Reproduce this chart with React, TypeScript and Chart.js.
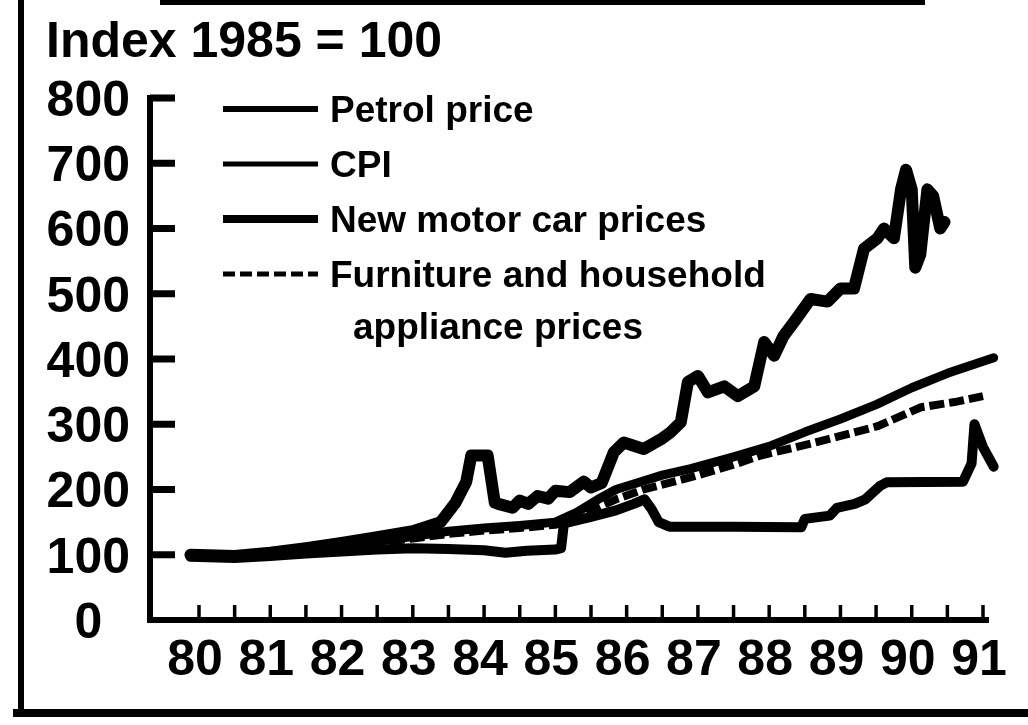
import React, { useEffect, useRef } from 'react';
import { Chart, registerables } from 'chart.js';

Chart.register(...registerables);

const FONT = "'Liberation Sans', Arial, Helvetica, sans-serif";

const titleText = 'Index 1985 = 100';
const yearTicks = [1980, 1981, 1982, 1983, 1984, 1985, 1986, 1987, 1988, 1989, 1990, 1991];
const xTickLabels = ['80', '81', '82', '83', '84', '85', '86', '87', '88', '89', '90', '91'];
const seriesLabels = ['Petrol price', 'CPI', 'New motor car prices', 'Furniture and household\nappliance prices'];

const petrolYears = [1979.88, 1980.5, 1981.0, 1981.5, 1982.0, 1982.5, 1983.0, 1983.5, 1984.0, 1984.3, 1984.6, 1985.0, 1985.08, 1985.12, 1985.5, 1985.85, 1986.1, 1986.25, 1986.35, 1986.45, 1986.6, 1987.5, 1988.45, 1988.5, 1988.85, 1988.95, 1989.2, 1989.35, 1989.55, 1989.65, 1990.72, 1990.84, 1990.88, 1991.0, 1991.15];
const petrolValues = [97, 95, 98, 102, 105, 108, 110, 109, 107, 103, 106, 108, 110, 148, 158, 168, 178, 185, 170, 150, 143, 143, 142, 155, 160, 172, 178, 185, 205, 211, 212, 240, 300, 265, 235];

const cpiYears = [1979.88, 1980.5, 1981.0, 1981.5, 1982.0, 1982.5, 1983.0, 1983.5, 1984.0, 1984.5, 1985.0, 1985.3, 1985.6, 1985.85, 1986.2, 1986.5, 1986.9, 1987.5, 1988.0, 1988.5, 1989.0, 1989.5, 1990.0, 1990.5, 1991.15];
const cpiValues = [98, 98, 102, 107, 114, 121, 128, 136, 141, 145, 150, 165, 185, 200, 212, 222, 232, 250, 266, 288, 308, 330, 356, 378, 402];

const carYears = [1979.88, 1980.5, 1981.0, 1981.5, 1982.0, 1982.5, 1983.0, 1983.39, 1983.6, 1983.75, 1983.82, 1984.05, 1984.15, 1984.2, 1984.4, 1984.5, 1984.62, 1984.75, 1984.9, 1985.0, 1985.2, 1985.4, 1985.5, 1985.65, 1985.82, 1985.96, 1986.24, 1986.48, 1986.62, 1986.76, 1986.86, 1987.0, 1987.14, 1987.37, 1987.56, 1987.79, 1987.93, 1988.07, 1988.2, 1988.35, 1988.58, 1988.82, 1989.0, 1989.19, 1989.33, 1989.52, 1989.61, 1989.75, 1989.85, 1989.92, 1990.0, 1990.05, 1990.12, 1990.22, 1990.3, 1990.4, 1990.46];
const carValues = [100, 98, 103, 110, 118, 127, 136, 150, 180, 212, 252, 252, 180, 178, 172, 183, 178, 190, 186, 198, 196, 212, 203, 210, 257, 272, 262, 277, 288, 303, 365, 374, 349, 358, 343, 358, 426, 405, 435, 457, 492, 488, 508, 508, 569, 585, 600, 585, 660, 690, 660, 540, 560, 660, 650, 600, 610];

const furnitureYears = [1979.88, 1980.5, 1981.0, 1981.5, 1982.0, 1982.5, 1983.0, 1983.5, 1984.0, 1984.5, 1985.0, 1985.5, 1985.85, 1986.24, 1986.94, 1987.5, 1987.88, 1988.72, 1989.52, 1990.13, 1990.6, 1991.0];
const furnitureValues = [97, 97, 100, 105, 111, 118, 125, 132, 137, 141, 146, 168, 185, 200, 220, 238, 252, 274, 297, 326, 334, 343];

const pts = (xs: number[], ys: number[]) => xs.map((x, i) => ({ x, y: ys[i] }));

const frameAndTitle = {
  id: 'frameAndTitle',
  afterDraw(chart: any) {
    const ctx = chart.ctx;
    ctx.save();
    ctx.fillStyle = '#000';
    ctx.fillRect(18, 0, 6, 717);
    ctx.fillRect(13, 709, 1015, 8);
    ctx.fillRect(160, 0, 765, 5);
    ctx.font = `bold 50px ${FONT}`;
    ctx.textBaseline = 'alphabetic';
    ctx.textAlign = 'left';
    ctx.fillText(titleText, 46, 57);
    ctx.restore();
  },
};

const inwardTicks = {
  id: 'inwardTicks',
  afterDraw(chart: any) {
    const ctx = chart.ctx;
    const { left, bottom } = chart.chartArea;
    const xs = chart.scales.x;
    const ys = chart.scales.y;
    ctx.save();
    ctx.strokeStyle = '#000';
    ctx.lineWidth = 7;
    ys.ticks.forEach((t: any) => {
      if (t.value <= 0) return;
      const py = ys.getPixelForValue(t.value);
      ctx.beginPath();
      ctx.moveTo(left, py);
      ctx.lineTo(left + 25, py);
      ctx.stroke();
    });
    ctx.lineWidth = 3.5;
    xs.ticks.forEach((t: any) => {
      if (t.value < yearTicks[0]) return;
      const px = xs.getPixelForValue(t.value);
      ctx.beginPath();
      ctx.moveTo(px, bottom);
      ctx.lineTo(px, bottom - 15);
      ctx.stroke();
    });
    ctx.restore();
  },
};

const customLegend = {
  id: 'customLegend',
  afterDraw(chart: any) {
    const ctx = chart.ctx;
    ctx.save();
    ctx.fillStyle = '#000';
    ctx.strokeStyle = '#000';
    ctx.font = `bold 37px ${FONT}`;
    ctx.textBaseline = 'middle';
    ctx.textAlign = 'left';
    const rowY0 = 112;
    const gap = 55;
    chart.data.datasets.forEach((ds: any, i: number) => {
      const y = rowY0 + i * gap;
      ctx.lineWidth = Math.max(5, ds.borderWidth - 4);
      ctx.setLineDash(ds.borderDash && ds.borderDash.length ? [12, 5] : []);
      ctx.beginPath();
      ctx.moveTo(223, y - 3);
      ctx.lineTo(318, y - 3);
      ctx.stroke();
      ctx.setLineDash([]);
      const lines = String(ds.label).split('\n');
      lines.forEach((ln, j) => {
        ctx.fillText(ln, j === 0 ? 330 : 353, y + j * 52);
      });
    });
    ctx.restore();
  },
};

export default function App() {
  const ref = useRef<HTMLCanvasElement | null>(null);
  useEffect(() => {
    if (!ref.current) return;
    const common = { borderColor: '#000', backgroundColor: '#000', pointRadius: 0, fill: false, tension: 0, clip: false, borderJoinStyle: 'round', borderCapStyle: 'round' };
    const chart = new Chart(ref.current, {
      type: 'line',
      data: {
        datasets: [
          { ...common, label: seriesLabels[0], data: pts(petrolYears, petrolValues), borderWidth: 10 },
          { ...common, label: seriesLabels[1], data: pts(cpiYears, cpiValues), borderWidth: 9 },
          { ...common, label: seriesLabels[2], data: pts(carYears, carValues), borderWidth: 12 },
          { ...common, label: seriesLabels[3], data: pts(furnitureYears, furnitureValues), borderWidth: 8, borderDash: [15, 5], borderCapStyle: 'butt' },
        ] as any,
      },
      options: {
        animation: false,
        responsive: false,
        events: [],
        layout: { padding: { left: 0, top: 98, right: 40, bottom: 0 } },
        plugins: { legend: { display: false }, title: { display: false }, tooltip: { enabled: false } },
        scales: {
          x: {
            type: 'linear',
            min: 1980 - 49 / 71.27,
            max: 1991 + 5 / 71.27,
            afterBuildTicks: (scale: any) => {
              const t: any[] = [];
              yearTicks.forEach((y, i) => {
                t.push({ value: y });
                if (i < yearTicks.length - 1) t.push({ value: y + 0.5 });
              });
              scale.ticks = t;
            },
            afterFit: (scale: any) => { scale.height = 105; },
            grid: { display: false, drawTicks: false },
            border: { display: true, width: 6, color: '#000' },
            ticks: {
              autoSkip: false,
              maxRotation: 0,
              minRotation: 0,
              padding: 16,
              labelOffset: -4,
              color: '#000',
              font: { family: FONT, size: 50, weight: 'bold', lineHeight: 1 },
              callback: (v: any) => {
                const i = yearTicks.indexOf(Number(v));
                return i >= 0 ? xTickLabels[i] : '';
              },
            },
          },
          y: {
            type: 'linear',
            min: 0,
            max: 800,
            afterFit: (scale: any) => { scale.width = 150; },
            grid: { display: false, drawTicks: false },
            border: { display: true, width: 6, color: '#000' },
            ticks: {
              stepSize: 100,
              padding: 20,
              crossAlign: 'center',
              labelOffset: 4,
              color: '#000',
              font: { family: FONT, size: 50, weight: 'bold', lineHeight: 1 },
            },
          },
        },
      } as any,
      plugins: [frameAndTitle, inwardTicks, customLegend],
    });
    return () => chart.destroy();
  }, []);
  return (
    <div style={{ position: 'fixed', left: 0, top: 0, width: 1028, height: 725, background: '#fff' }}>
      <canvas ref={ref} width={1028} height={725} style={{ display: 'block', width: 1028, height: 725 }} />
    </div>
  );
}
